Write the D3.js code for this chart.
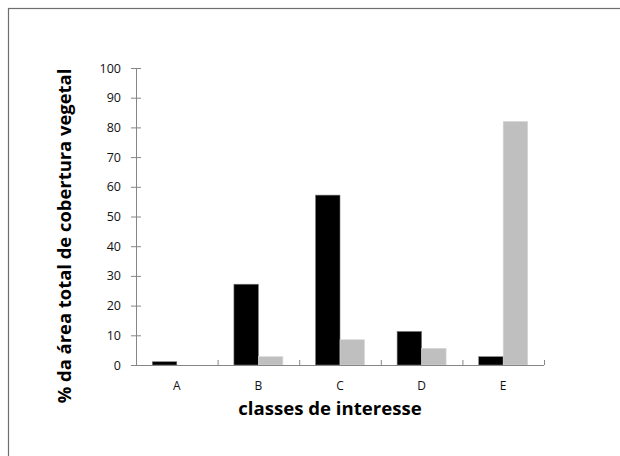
<!DOCTYPE html>
<html>
<head>
<meta charset="utf-8">
<script src="https://cdn.jsdelivr.net/npm/d3@7"></script>
<style>
  html, body { margin: 0; padding: 0; background: #fff; }
  svg { display: block; }
</style>
</head>
<body>
<svg id="chart" width="620" height="456"></svg>
<script>
// Categories and the two series (% of total vegetation cover)
const categories = ["A", "B", "C", "D", "E"];
const seriesDark = [1.1, 27.2, 57.2, 11.3, 2.8];
const seriesLight = [0, 2.8, 8.5, 5.6, 82.0];
const yTicks = [0, 10, 20, 30, 40, 50, 60, 70, 80, 90, 100];

const svg = d3.select("#chart");

// Outer frame of the chart area
svg.append("rect")
  .attr("x", 8.5).attr("y", 8.5)
  .attr("width", 640).attr("height", 480)
  .attr("fill", "#fff")
  .attr("stroke", "#6e6e6e").attr("stroke-width", 1.2);

const plot = { left: 136, right: 544, top: 68, bottom: 365 };

const x = d3.scaleBand()
  .domain(categories)
  .range([plot.left, plot.right])
  .paddingInner(0).paddingOuter(0);

const y = d3.scaleLinear()
  .domain([0, 100])
  .range([plot.bottom, plot.top]);

const groupFrac = 0.6;
const barW = x.bandwidth() * groupFrac / 2;

const rows = categories.map((c, i) => ({ c, dark: seriesDark[i], light: seriesLight[i] }));

// Dark series bars
svg.append("g").selectAll("rect")
  .data(rows)
  .join("rect")
  .attr("x", d => x(d.c) + x.bandwidth() / 2 - barW)
  .attr("y", d => y(d.dark))
  .attr("width", barW)
  .attr("height", d => y(0) - y(d.dark))
  .attr("fill", "#000")
  .attr("stroke", "#7a7a7a").attr("stroke-width", 0.6);

// Light series bars
svg.append("g").selectAll("rect")
  .data(rows.filter(d => d.light > 0))
  .join("rect")
  .attr("x", d => x(d.c) + x.bandwidth() / 2)
  .attr("y", d => y(d.light))
  .attr("width", barW)
  .attr("height", d => y(0) - y(d.light))
  .attr("fill", "#bfbfbf")
  .attr("stroke", "#d6d6d6").attr("stroke-width", 0.6);

const axisColor = "#868686";
const labelFont = "'Open Sans', 'DejaVu Sans', sans-serif";

// Y axis with crossing ticks
const yAxis = svg.append("g")
  .attr("transform", `translate(${plot.left},0)`)
  .call(d3.axisLeft(y).tickValues(yTicks).tickSize(5).tickPadding(10).tickSizeOuter(0));
yAxis.selectAll(".tick line").attr("x2", -5).attr("x1", 5);
yAxis.select(".domain").attr("stroke", axisColor);
yAxis.selectAll(".tick line").attr("stroke", axisColor);
yAxis.selectAll(".tick text")
  .attr("fill", "#111")
  .attr("font-family", labelFont)
  .attr("font-size", 12.5);

// X axis: baseline with inward ticks at band boundaries
const xAxisG = svg.append("g");
xAxisG.append("line")
  .attr("x1", plot.left - 5).attr("x2", plot.right)
  .attr("y1", y(0) + 0.5).attr("y2", y(0) + 0.5)
  .attr("stroke", axisColor);
const bounds = categories.slice(1).map(c => x(c)).concat([plot.right]);
xAxisG.selectAll("line.tk")
  .data(bounds)
  .join("line")
  .attr("class", "tk")
  .attr("x1", d => d + 0.5).attr("x2", d => d + 0.5)
  .attr("y1", y(0) - 5).attr("y2", y(0))
  .attr("stroke", axisColor);
xAxisG.selectAll("text")
  .data(categories)
  .join("text")
  .attr("x", d => x(d) + x.bandwidth() / 2)
  .attr("y", 390)
  .attr("text-anchor", "middle")
  .attr("font-family", labelFont)
  .attr("font-size", 12)
  .attr("fill", "#111")
  .text(d => d);

// Axis titles
svg.append("text")
  .attr("x", 330).attr("y", 415)
  .attr("text-anchor", "middle")
  .attr("font-family", "'Open Sans', 'Liberation Sans', sans-serif")
  .attr("font-weight", "bold")
  .attr("font-size", 18.6)
  .attr("fill", "#000")
  .text("classes de interesse");

svg.append("text")
  .attr("transform", "translate(71,236) rotate(-90)")
  .attr("text-anchor", "middle")
  .attr("font-family", "'Open Sans', 'Liberation Sans', sans-serif")
  .attr("font-weight", "bold")
  .attr("font-size", 18.4)
  .attr("fill", "#000")
  .text("% da área total de cobertura vegetal");
</script>
</body>
</html>
